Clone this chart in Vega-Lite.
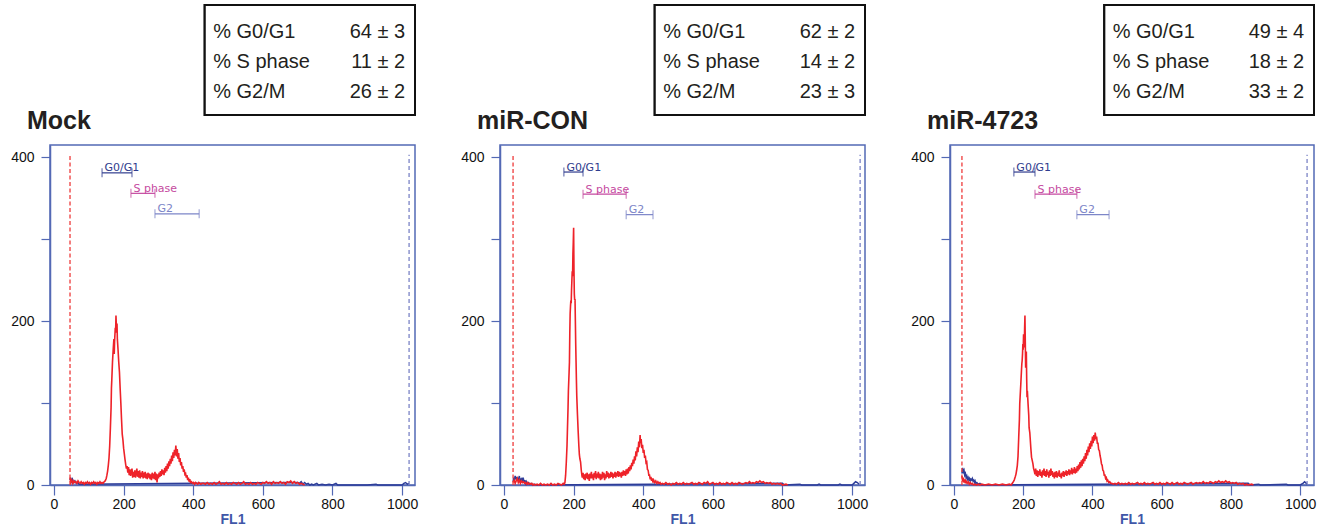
{
  "$schema": "https://vega.github.io/schema/vega-lite/v6.json",
  "padding": {"left": 9, "top": 4, "right": 5, "bottom": 0},
  "background": "white",
  "datasets": {
    "tables": [
      {"panel": "Mock", "row": 1, "label": "% G0/G1", "value": "64 ± 3"},
      {"panel": "Mock", "row": 2, "label": "% S phase", "value": "11 ± 2"},
      {"panel": "Mock", "row": 3, "label": "% G2/M", "value": "26 ± 2"},
      {"panel": "miR-CON", "row": 1, "label": "% G0/G1", "value": "62 ± 2"},
      {"panel": "miR-CON", "row": 2, "label": "% S phase", "value": "14 ± 2"},
      {"panel": "miR-CON", "row": 3, "label": "% G2/M", "value": "23 ± 3"},
      {"panel": "miR-4723", "row": 1, "label": "% G0/G1", "value": "49 ± 4"},
      {"panel": "miR-4723", "row": 2, "label": "% S phase", "value": "18 ± 2"},
      {"panel": "miR-4723", "row": 3, "label": "% G2/M", "value": "33 ± 2"}
    ],
    "gates": [
      {"panel": "Mock", "gate": "G0/G1", "x": 138, "x2": 224, "y": 381},
      {"panel": "Mock", "gate": "S phase", "x": 221, "x2": 290, "y": 356},
      {"panel": "Mock", "gate": "G2", "x": 290, "x2": 417, "y": 331},
      {"panel": "miR-CON", "gate": "G0/G1", "x": 172, "x2": 227, "y": 382},
      {"panel": "miR-CON", "gate": "S phase", "x": 227, "x2": 351, "y": 355},
      {"panel": "miR-CON", "gate": "G2", "x": 351, "x2": 428, "y": 330},
      {"panel": "miR-4723", "gate": "G0/G1", "x": 173, "x2": 234, "y": 382},
      {"panel": "miR-4723", "gate": "S phase", "x": 234, "x2": 355, "y": 355},
      {"panel": "miR-4723", "gate": "G2", "x": 355, "x2": 448, "y": 330}
    ],
    "cuts": [
      {"panel": "Mock", "side": "L", "x": 46},
      {"panel": "Mock", "side": "R", "x": 1020},
      {"panel": "miR-CON", "side": "L", "x": 26},
      {"panel": "miR-CON", "side": "R", "x": 1023},
      {"panel": "miR-4723", "side": "L", "x": 23},
      {"panel": "miR-4723", "side": "R", "x": 1020}
    ],
    "m_b": [
      {"x":46,"y":6},{"x":48,"y":9},{"x":50,"y":4},{"x":53,"y":7},{"x":56,"y":3},{"x":60,"y":5},{"x":64,"y":2},{"x":68,"y":3},{"x":72,"y":1},
      {"x":700,"y":3},{"x":705,"y":2},{"x":710,"y":4},{"x":715,"y":1},{"x":720,"y":3},{"x":725,"y":1},{"x":730,"y":2},{"x":735,"y":0},{"x":740,"y":1},{"x":745,"y":0},{"x":755,"y":2},{"x":760,"y":0},{"x":770,"y":1},{"x":780,"y":0},{"x":790,"y":1},{"x":800,"y":0},{"x":810,"y":2},{"x":815,"y":0},{"x":900,"y":0},{"x":925,"y":1},{"x":930,"y":0},{"x":1000,"y":0},{"x":1005,"y":2},{"x":1010,"y":3},{"x":1015,"y":1},{"x":1020,"y":2}
    ],
    "m_r": [
      {"x":46,"y":9},{"x":48,"y":3},{"x":51,"y":6},{"x":54,"y":2},{"x":57,"y":5},{"x":60,"y":3},{"x":63,"y":4},{"x":66,"y":2},{"x":69,"y":5},{"x":72,"y":3},{"x":75,"y":2},{"x":78,"y":4},{"x":81,"y":2},{"x":84,"y":3},{"x":87,"y":1},{"x":90,"y":3},{"x":93,"y":2},{"x":96,"y":4},{"x":99,"y":2},{"x":102,"y":3},{"x":105,"y":1},{"x":108,"y":3},{"x":111,"y":2},{"x":114,"y":4},{"x":117,"y":2},{"x":120,"y":3},{"x":123,"y":1},{"x":126,"y":3},{"x":129,"y":2},{"x":132,"y":4},{"x":135,"y":2},{"x":138,"y":3},{"x":141,"y":2},{"x":144,"y":4},{"x":147,"y":5},
      {"x":150,"y":8},{"x":152,"y":12},{"x":154,"y":17},{"x":156,"y":24},{"x":158,"y":33},{"x":160,"y":48},{"x":162,"y":70},{"x":164,"y":95},{"x":165,"y":118},{"x":166,"y":128},{"x":168,"y":150},{"x":170,"y":165},{"x":172,"y":178},{"x":173,"y":160},{"x":174,"y":175},{"x":176,"y":192},{"x":177,"y":186},{"x":178,"y":207},{"x":179,"y":196},{"x":180,"y":188},{"x":181,"y":197},{"x":182,"y":178},{"x":184,"y":165},{"x":186,"y":150},{"x":188,"y":138},{"x":190,"y":118},{"x":192,"y":100},{"x":194,"y":80},{"x":196,"y":62},{"x":198,"y":55},{"x":200,"y":45},{"x":202,"y":38},{"x":204,"y":31},{"x":206,"y":25},{"x":208,"y":20},
      {"x":210,"y":23},{"x":212,"y":15},{"x":214,"y":22},{"x":216,"y":12},{"x":218,"y":19},{"x":220,"y":11},{"x":222,"y":17},{"x":224,"y":20},{"x":226,"y":9},{"x":228,"y":16},{"x":230,"y":10},{"x":232,"y":18},{"x":234,"y":9},{"x":236,"y":15},{"x":238,"y":20},{"x":240,"y":10},{"x":242,"y":17},{"x":244,"y":9},{"x":246,"y":18},{"x":248,"y":8},{"x":250,"y":15},{"x":252,"y":10},{"x":254,"y":17},{"x":256,"y":8},{"x":258,"y":15},{"x":260,"y":9},{"x":262,"y":16},{"x":264,"y":8},{"x":266,"y":14},{"x":268,"y":7},{"x":270,"y":15},{"x":272,"y":9},{"x":274,"y":14},{"x":276,"y":7},{"x":278,"y":13},{"x":280,"y":6},{"x":282,"y":15},{"x":284,"y":8},{"x":286,"y":14},{"x":288,"y":7},{"x":290,"y":16},{"x":292,"y":6},{"x":294,"y":14},{"x":296,"y":3},{"x":298,"y":13},{"x":300,"y":8},
      {"x":302,"y":15},{"x":304,"y":10},{"x":306,"y":17},{"x":308,"y":11},{"x":310,"y":19},{"x":312,"y":13},{"x":314,"y":18},{"x":316,"y":12},{"x":318,"y":21},{"x":320,"y":15},{"x":322,"y":23},{"x":324,"y":17},{"x":326,"y":26},{"x":328,"y":20},{"x":330,"y":29},{"x":332,"y":23},{"x":334,"y":32},{"x":336,"y":26},{"x":338,"y":36},{"x":340,"y":29},{"x":342,"y":40},{"x":344,"y":33},{"x":346,"y":43},{"x":348,"y":36},{"x":350,"y":48},{"x":352,"y":35},{"x":354,"y":44},{"x":356,"y":32},{"x":358,"y":39},{"x":360,"y":28},{"x":362,"y":33},{"x":364,"y":24},{"x":366,"y":28},{"x":368,"y":20},{"x":370,"y":23},{"x":372,"y":16},{"x":374,"y":19},{"x":376,"y":13},{"x":378,"y":14},{"x":380,"y":9},{"x":382,"y":12},{"x":384,"y":6},{"x":386,"y":9},{"x":388,"y":4},{"x":390,"y":7},{"x":392,"y":3},{"x":395,"y":4},{"x":398,"y":2},{"x":401,"y":3},{"x":404,"y":1},{"x":407,"y":3},{"x":410,"y":2},{"x":413,"y":1},{"x":416,"y":3},{"x":419,"y":2},{"x":422,"y":1},{"x":425,"y":2},
      {"x":430,"y":2},{"x":435,"y":1},{"x":440,"y":3},{"x":445,"y":1},{"x":450,"y":2},{"x":455,"y":1},{"x":460,"y":3},{"x":465,"y":1},{"x":470,"y":2},{"x":475,"y":4},{"x":480,"y":1},{"x":485,"y":2},{"x":490,"y":1},{"x":495,"y":3},{"x":500,"y":1},{"x":505,"y":2},{"x":510,"y":1},{"x":515,"y":3},{"x":520,"y":2},{"x":525,"y":1},{"x":530,"y":3},{"x":535,"y":1},{"x":540,"y":2},{"x":545,"y":4},{"x":550,"y":1},{"x":555,"y":2},{"x":560,"y":1},{"x":565,"y":3},{"x":570,"y":1},{"x":575,"y":2},{"x":580,"y":1},{"x":585,"y":3},{"x":590,"y":2},{"x":595,"y":1},{"x":600,"y":3},{"x":605,"y":2},{"x":610,"y":4},{"x":615,"y":2},{"x":620,"y":3},{"x":625,"y":1},{"x":630,"y":4},{"x":635,"y":2},{"x":640,"y":3},{"x":645,"y":2},{"x":650,"y":4},{"x":655,"y":2},{"x":660,"y":3},{"x":665,"y":1},{"x":670,"y":4},{"x":675,"y":3},{"x":680,"y":5},{"x":685,"y":2},{"x":690,"y":4},{"x":695,"y":2},{"x":700,"y":3},{"x":705,"y":1},{"x":710,"y":2},{"x":715,"y":1},{"x":720,"y":0}
    ],
    "c_b": [
      {"x":26,"y":4},{"x":28,"y":9},{"x":30,"y":6},{"x":32,"y":11},{"x":34,"y":7},{"x":36,"y":10},{"x":38,"y":5},{"x":40,"y":9},{"x":42,"y":6},{"x":44,"y":11},{"x":46,"y":5},{"x":48,"y":8},{"x":50,"y":4},{"x":52,"y":9},{"x":54,"y":5},{"x":56,"y":7},{"x":58,"y":3},{"x":60,"y":6},{"x":62,"y":2},{"x":64,"y":4},{"x":66,"y":1},{"x":70,"y":3},{"x":74,"y":1},{"x":78,"y":2},{"x":82,"y":0},{"x":88,"y":1},{"x":95,"y":0},
      {"x":800,"y":2},{"x":805,"y":0},{"x":850,"y":1},{"x":855,"y":0},{"x":900,"y":0},{"x":905,"y":1},{"x":910,"y":0},{"x":960,"y":0},{"x":965,"y":1},{"x":970,"y":0},{"x":1000,"y":0},{"x":1005,"y":2},{"x":1010,"y":4},{"x":1015,"y":3},{"x":1020,"y":1}
    ],
    "c_r": [
      {"x":26,"y":3},{"x":29,"y":6},{"x":32,"y":2},{"x":35,"y":5},{"x":38,"y":8},{"x":41,"y":3},{"x":44,"y":6},{"x":47,"y":2},{"x":50,"y":5},{"x":53,"y":3},{"x":56,"y":4},{"x":59,"y":2},{"x":62,"y":3},{"x":65,"y":1},{"x":68,"y":3},{"x":71,"y":1},{"x":74,"y":2},{"x":77,"y":1},{"x":80,"y":2},{"x":83,"y":0},{"x":86,"y":1},{"x":90,"y":0},{"x":95,"y":1},{"x":100,"y":0},{"x":105,"y":2},{"x":110,"y":0},{"x":115,"y":1},{"x":120,"y":0},{"x":125,"y":1},{"x":130,"y":0},{"x":135,"y":2},{"x":140,"y":0},{"x":145,"y":1},{"x":150,"y":0},{"x":155,"y":2},{"x":160,"y":1},{"x":165,"y":0},{"x":170,"y":2},{"x":173,"y":1},
      {"x":175,"y":3},{"x":177,"y":12},{"x":179,"y":28},{"x":181,"y":48},{"x":182,"y":64},{"x":184,"y":95},{"x":185,"y":115},{"x":187,"y":138},{"x":188,"y":150},{"x":189,"y":185},{"x":190,"y":209},{"x":191,"y":218},{"x":192,"y":225},{"x":193,"y":222},{"x":194,"y":238},{"x":195,"y":250},{"x":196,"y":261},{"x":197,"y":255},{"x":198,"y":282},{"x":199,"y":296},{"x":200,"y":314},{"x":201,"y":262},{"x":202,"y":233},{"x":203,"y":226},{"x":204,"y":227},{"x":205,"y":200},{"x":206,"y":172},{"x":207,"y":150},{"x":208,"y":128},{"x":209,"y":109},{"x":211,"y":86},{"x":213,"y":66},{"x":215,"y":48},{"x":216.5,"y":37},{"x":218,"y":32},{"x":220,"y":28},{"x":222,"y":18},{"x":224,"y":11},{"x":225,"y":9},
      {"x":227,"y":15},{"x":229,"y":7},{"x":231,"y":13},{"x":233,"y":6},{"x":235,"y":14},{"x":237,"y":8},{"x":239,"y":15},{"x":241,"y":7},{"x":243,"y":13},{"x":245,"y":5},{"x":247,"y":14},{"x":249,"y":8},{"x":251,"y":16},{"x":253,"y":8},{"x":255,"y":13},{"x":257,"y":6},{"x":259,"y":15},{"x":261,"y":9},{"x":263,"y":17},{"x":265,"y":7},{"x":267,"y":14},{"x":269,"y":9},{"x":271,"y":16},{"x":273,"y":8},{"x":275,"y":14},{"x":277,"y":6},{"x":279,"y":13},{"x":281,"y":7},{"x":283,"y":16},{"x":285,"y":9},{"x":287,"y":15},{"x":289,"y":6},{"x":291,"y":13},{"x":293,"y":8},{"x":295,"y":17},{"x":297,"y":10},{"x":299,"y":15},{"x":301,"y":8},{"x":303,"y":14},{"x":305,"y":9},{"x":307,"y":16},{"x":309,"y":10},{"x":311,"y":15},{"x":313,"y":8},{"x":315,"y":14},{"x":317,"y":10},{"x":319,"y":16},{"x":321,"y":9},{"x":323,"y":15},{"x":325,"y":11},{"x":327,"y":17},{"x":329,"y":10},{"x":331,"y":16},{"x":333,"y":11},{"x":335,"y":15},{"x":337,"y":9},{"x":339,"y":16},{"x":341,"y":11},{"x":343,"y":18},{"x":345,"y":12},{"x":347,"y":17},{"x":349,"y":11},{"x":351,"y":19},{"x":353,"y":13},{"x":355,"y":20},{"x":357,"y":14},
      {"x":359,"y":22},{"x":361,"y":17},{"x":363,"y":24},{"x":365,"y":19},{"x":367,"y":27},{"x":369,"y":23},{"x":371,"y":31},{"x":373,"y":26},{"x":375,"y":35},{"x":377,"y":30},{"x":379,"y":41},{"x":381,"y":35},{"x":383,"y":46},{"x":385,"y":40},{"x":387,"y":53},{"x":389,"y":46},{"x":391,"y":61},{"x":392,"y":51},{"x":394,"y":56},{"x":396,"y":45},{"x":398,"y":49},{"x":400,"y":39},{"x":402,"y":43},{"x":404,"y":33},{"x":406,"y":36},{"x":408,"y":27},{"x":410,"y":28},{"x":412,"y":19},{"x":414,"y":18},{"x":416,"y":12},{"x":418,"y":12},{"x":420,"y":7},{"x":422,"y":10},{"x":424,"y":5},{"x":426,"y":8},{"x":428,"y":3},{"x":430,"y":6},{"x":433,"y":3},{"x":436,"y":5},{"x":439,"y":2},{"x":442,"y":4},{"x":445,"y":2},{"x":448,"y":3},{"x":451,"y":1},
      {"x":455,"y":2},{"x":460,"y":1},{"x":465,"y":3},{"x":470,"y":1},{"x":475,"y":2},{"x":480,"y":0},{"x":485,"y":2},{"x":490,"y":1},{"x":495,"y":3},{"x":500,"y":1},{"x":505,"y":2},{"x":510,"y":1},{"x":515,"y":3},{"x":520,"y":1},{"x":525,"y":2},{"x":530,"y":1},{"x":535,"y":2},{"x":540,"y":3},{"x":545,"y":1},{"x":550,"y":2},{"x":555,"y":1},{"x":560,"y":3},{"x":565,"y":2},{"x":570,"y":1},{"x":575,"y":3},{"x":580,"y":2},{"x":585,"y":4},{"x":590,"y":1},{"x":595,"y":2},{"x":600,"y":3},{"x":605,"y":1},{"x":610,"y":2},{"x":615,"y":1},{"x":620,"y":3},{"x":625,"y":1},{"x":630,"y":2},{"x":635,"y":1},{"x":640,"y":3},{"x":645,"y":2},{"x":650,"y":1},{"x":655,"y":3},{"x":660,"y":1},{"x":665,"y":2},{"x":670,"y":1},{"x":675,"y":3},{"x":680,"y":2},{"x":685,"y":1},{"x":690,"y":2},{"x":695,"y":3},{"x":700,"y":2},{"x":705,"y":4},{"x":710,"y":2},{"x":715,"y":3},{"x":720,"y":2},{"x":725,"y":4},{"x":730,"y":3},{"x":735,"y":5},{"x":740,"y":3},{"x":745,"y":4},{"x":750,"y":2},{"x":755,"y":3},{"x":760,"y":2},{"x":765,"y":3},{"x":770,"y":1},{"x":775,"y":2},{"x":780,"y":1},{"x":785,"y":2},{"x":790,"y":1},{"x":795,"y":2},{"x":800,"y":0},{"x":810,"y":1},{"x":815,"y":0}
    ],
    "t_b": [
      {"x":23,"y":14},{"x":25,"y":21},{"x":27,"y":16},{"x":29,"y":18},{"x":31,"y":12},{"x":33,"y":14},{"x":35,"y":9},{"x":37,"y":11},{"x":39,"y":7},{"x":41,"y":9},{"x":43,"y":6},{"x":45,"y":8},{"x":47,"y":5},{"x":49,"y":7},{"x":51,"y":6},{"x":53,"y":8},{"x":55,"y":5},{"x":57,"y":6},{"x":59,"y":3},{"x":61,"y":5},{"x":63,"y":2},{"x":66,"y":3},{"x":70,"y":1},{"x":75,"y":2},{"x":80,"y":0},
      {"x":850,"y":2},{"x":855,"y":0},{"x":880,"y":1},{"x":885,"y":0},{"x":960,"y":1},{"x":965,"y":0},{"x":1000,"y":0},{"x":1008,"y":2},{"x":1013,"y":4},{"x":1018,"y":2},{"x":1020,"y":0}
    ],
    "t_r": [
      {"x":23,"y":11},{"x":25,"y":4},{"x":27,"y":9},{"x":29,"y":3},{"x":31,"y":7},{"x":33,"y":2},{"x":35,"y":5},{"x":38,"y":2},{"x":41,"y":4},{"x":44,"y":1},{"x":47,"y":3},{"x":50,"y":1},{"x":53,"y":2},{"x":56,"y":0},{"x":60,"y":1},{"x":65,"y":0},{"x":70,"y":1},{"x":75,"y":0},{"x":80,"y":1},{"x":90,"y":0},{"x":100,"y":1},{"x":110,"y":0},{"x":120,"y":1},{"x":130,"y":0},{"x":140,"y":1},{"x":150,"y":0},{"x":160,"y":1},{"x":165,"y":0},
      {"x":170,"y":3},{"x":174,"y":6},{"x":177,"y":10},{"x":179,"y":13},{"x":181,"y":18},{"x":183,"y":24},{"x":185,"y":35},{"x":187,"y":58},{"x":189,"y":80},{"x":190,"y":99},{"x":192,"y":115},{"x":193,"y":123},{"x":195,"y":140},{"x":196,"y":148},{"x":197,"y":152},{"x":198,"y":160},{"x":199,"y":172},{"x":200,"y":165},{"x":201,"y":184},{"x":202,"y":175},{"x":203,"y":168},{"x":204,"y":190},{"x":205,"y":207},{"x":206,"y":175},{"x":207,"y":143},{"x":208,"y":155},{"x":209,"y":163},{"x":210,"y":130},{"x":211,"y":107},{"x":212,"y":115},{"x":214,"y":99},{"x":216,"y":85},{"x":217,"y":70},{"x":219,"y":64},{"x":220,"y":58},{"x":222,"y":45},{"x":224,"y":34},{"x":226,"y":30},{"x":228,"y":26},{"x":230,"y":20},{"x":232,"y":17},{"x":234,"y":13},
      {"x":236,"y":20},{"x":238,"y":11},{"x":240,"y":18},{"x":242,"y":10},{"x":244,"y":17},{"x":246,"y":12},{"x":248,"y":19},{"x":250,"y":11},{"x":252,"y":16},{"x":254,"y":9},{"x":256,"y":18},{"x":258,"y":12},{"x":260,"y":20},{"x":262,"y":11},{"x":264,"y":17},{"x":266,"y":10},{"x":268,"y":19},{"x":270,"y":12},{"x":272,"y":16},{"x":274,"y":9},{"x":276,"y":18},{"x":278,"y":11},{"x":280,"y":20},{"x":282,"y":12},{"x":284,"y":17},{"x":286,"y":10},{"x":288,"y":15},{"x":290,"y":8},{"x":292,"y":16},{"x":294,"y":10},{"x":296,"y":17},{"x":298,"y":9},{"x":300,"y":15},{"x":302,"y":11},{"x":304,"y":18},{"x":306,"y":10},{"x":308,"y":14},{"x":310,"y":8},{"x":312,"y":15},{"x":314,"y":11},{"x":316,"y":17},{"x":318,"y":10},{"x":320,"y":16},{"x":322,"y":12},{"x":324,"y":18},{"x":326,"y":11},{"x":328,"y":17},{"x":330,"y":13},{"x":332,"y":19},{"x":334,"y":12},{"x":336,"y":18},{"x":338,"y":14},{"x":340,"y":21},{"x":342,"y":13},{"x":344,"y":19},{"x":346,"y":15},{"x":348,"y":22},{"x":350,"y":14},{"x":352,"y":20},{"x":354,"y":15},{"x":356,"y":23},{"x":358,"y":17},
      {"x":360,"y":25},{"x":362,"y":19},{"x":364,"y":28},{"x":366,"y":21},{"x":368,"y":30},{"x":370,"y":23},{"x":372,"y":32},{"x":374,"y":26},{"x":376,"y":35},{"x":378,"y":29},{"x":380,"y":39},{"x":382,"y":32},{"x":384,"y":43},{"x":386,"y":36},{"x":388,"y":47},{"x":390,"y":40},{"x":392,"y":51},{"x":394,"y":44},{"x":396,"y":54},{"x":398,"y":47},{"x":400,"y":59},{"x":402,"y":51},{"x":404,"y":61},{"x":406,"y":54},{"x":408,"y":64},{"x":410,"y":56},{"x":412,"y":59},{"x":414,"y":51},{"x":416,"y":51},{"x":418,"y":43},{"x":420,"y":42},{"x":422,"y":36},{"x":424,"y":32},{"x":426,"y":26},{"x":428,"y":24},{"x":430,"y":18},{"x":432,"y":17},{"x":434,"y":12},{"x":436,"y":12},{"x":438,"y":8},{"x":440,"y":9},{"x":442,"y":5},{"x":444,"y":6},{"x":447,"y":3},{"x":450,"y":4},{"x":453,"y":2},
      {"x":456,"y":2},{"x":460,"y":1},{"x":465,"y":2},{"x":470,"y":1},{"x":475,"y":3},{"x":480,"y":1},{"x":485,"y":2},{"x":490,"y":1},{"x":495,"y":2},{"x":500,"y":1},{"x":505,"y":3},{"x":510,"y":1},{"x":515,"y":2},{"x":520,"y":1},{"x":525,"y":2},{"x":530,"y":3},{"x":535,"y":1},{"x":540,"y":2},{"x":545,"y":1},{"x":550,"y":3},{"x":555,"y":1},{"x":560,"y":2},{"x":565,"y":1},{"x":570,"y":2},{"x":575,"y":3},{"x":580,"y":1},{"x":585,"y":2},{"x":590,"y":1},{"x":595,"y":3},{"x":600,"y":1},{"x":605,"y":2},{"x":610,"y":1},{"x":615,"y":3},{"x":620,"y":2},{"x":625,"y":1},{"x":630,"y":3},{"x":635,"y":1},{"x":640,"y":2},{"x":645,"y":3},{"x":650,"y":1},{"x":655,"y":2},{"x":660,"y":1},{"x":665,"y":3},{"x":670,"y":2},{"x":675,"y":1},{"x":680,"y":2},{"x":685,"y":3},{"x":690,"y":1},{"x":695,"y":2},{"x":700,"y":3},{"x":705,"y":2},{"x":710,"y":3},{"x":715,"y":2},{"x":720,"y":4},{"x":725,"y":2},{"x":730,"y":3},{"x":735,"y":2},{"x":740,"y":4},{"x":745,"y":3},{"x":750,"y":2},{"x":755,"y":4},{"x":760,"y":3},{"x":765,"y":5},{"x":770,"y":3},{"x":775,"y":4},{"x":780,"y":3},{"x":785,"y":5},{"x":790,"y":3},{"x":795,"y":4},{"x":800,"y":2},{"x":805,"y":3},{"x":810,"y":2},{"x":815,"y":3},{"x":820,"y":1},{"x":825,"y":2},{"x":830,"y":1},{"x":835,"y":2},{"x":840,"y":0},{"x":845,"y":1},{"x":850,"y":0},{"x":860,"y":1},{"x":865,"y":0}
    ]
  },
  "hconcat": [
    {
      "vconcat": [
        {
          "width": 365, "height": 110, "view": {"stroke": null},
          "data": {"name": "tables"},
          "transform": [{"filter": "datum.panel === 'Mock'"}],
          "layer": [
            {"mark": {"type": "rect", "fill": "white", "stroke": "#111111", "strokeWidth": 2},
             "encoding": {"x": {"datum": 0.424, "type": "quantitative", "scale": {"domain": [0, 1], "nice": false, "zero": false}, "axis": null}, "x2": {"datum": 1.0}}},
            {"mark": {"type": "text", "align": "left", "baseline": "middle", "font": "Liberation Sans", "fontSize": 20, "color": "#231f20", "dy": 2},
             "encoding": {"x": {"datum": 0.447, "type": "quantitative"}, "y": {"field": "row", "type": "ordinal", "scale": {"type": "point", "padding": 0.85}, "axis": null}, "text": {"field": "label"}}},
            {"mark": {"type": "text", "align": "right", "baseline": "middle", "font": "Liberation Sans", "fontSize": 20, "color": "#231f20", "dy": 2},
             "encoding": {"x": {"datum": 0.973, "type": "quantitative"}, "y": {"field": "row", "type": "ordinal"}, "text": {"field": "value"}}}
          ]
        },
        {
          "width": 365, "height": 340,
          "title": "Mock",
          "layer": [
            {"data": {"name": "m_b"}, "mark": {"type": "line", "color": "#2e3d99", "strokeWidth": 1.5},
             "encoding": {
               "x": {"field": "x", "type": "quantitative", "title": "FL1", "scale": {"domain": [-11.5, 1037], "nice": false, "zero": false},
                     "axis": {"values": [0,50,100,150,200,250,300,350,400,450,500,550,600,650,700,750,800,850,900,950,1000], "format": "d", "labelExpr": "datum.value % 200 === 0 ? datum.label : ''"}},
               "y": {"field": "y", "type": "quantitative", "title": null, "scale": {"domain": [0, 415], "nice": false},
                     "axis": {"values": [0,100,200,300,400], "format": "d", "labelExpr": "datum.value % 200 === 0 ? datum.label : ''"}}}},
            {"data": {"name": "m_r"}, "mark": {"type": "line", "color": "#ee2229", "strokeWidth": 1.6},
             "encoding": {"x": {"field": "x", "type": "quantitative", "title": "FL1"}, "y": {"field": "y", "type": "quantitative", "title": null}}},
            {"data": {"name": "cuts"}, "transform": [{"filter": "datum.panel === 'Mock' && datum.side === 'L'"}],
             "mark": {"type": "rule", "color": "#ee3b3b", "strokeWidth": 1.3, "strokeDash": [4, 2.5]},
             "encoding": {"x": {"field": "x", "type": "quantitative", "title": "FL1"}, "y": {"datum": 0, "type": "quantitative"}, "y2": {"datum": 403}}},
            {"data": {"name": "cuts"}, "transform": [{"filter": "datum.panel === 'Mock' && datum.side === 'R'"}],
             "mark": {"type": "rule", "color": "#7b83c6", "strokeWidth": 1.3, "strokeDash": [4, 3]},
             "encoding": {"x": {"field": "x", "type": "quantitative", "title": "FL1"}, "y": {"datum": 0, "type": "quantitative"}, "y2": {"datum": 403}}},
            {"data": {"name": "gates"}, "transform": [{"filter": "datum.panel === 'Mock'"}],
             "mark": {"type": "rule", "strokeWidth": 1.2},
             "encoding": {"x": {"field": "x", "type": "quantitative", "title": "FL1"}, "x2": {"field": "x2"}, "y": {"field": "y", "type": "quantitative", "title": null},
                          "color": {"field": "gate", "type": "nominal", "scale": {"domain": ["G0/G1", "S phase", "G2"], "range": ["#303c8e", "#c54aa0", "#7d86c8"]}, "legend": null}}},
            {"data": {"name": "gates"}, "transform": [{"filter": "datum.panel === 'Mock'"}],
             "mark": {"type": "tick", "orient": "vertical", "size": 9, "thickness": 1.2},
             "encoding": {"x": {"field": "x", "type": "quantitative", "title": "FL1"}, "y": {"field": "y", "type": "quantitative", "title": null}, "color": {"field": "gate", "type": "nominal", "legend": null}}},
            {"data": {"name": "gates"}, "transform": [{"filter": "datum.panel === 'Mock'"}],
             "mark": {"type": "tick", "orient": "vertical", "size": 9, "thickness": 1.2},
             "encoding": {"x": {"field": "x2", "type": "quantitative", "title": "FL1"}, "y": {"field": "y", "type": "quantitative", "title": null}, "color": {"field": "gate", "type": "nominal", "legend": null}}},
            {"data": {"name": "gates"}, "transform": [{"filter": "datum.panel === 'Mock'"}],
             "mark": {"type": "text", "align": "left", "baseline": "alphabetic", "dx": 2.5, "dy": -1.5, "font": "DejaVu Sans", "fontSize": 11},
             "encoding": {"x": {"field": "x", "type": "quantitative", "title": "FL1"}, "y": {"field": "y", "type": "quantitative", "title": null}, "text": {"field": "gate"}, "color": {"field": "gate", "type": "nominal", "legend": null}}}
          ]
        }
      ],
      "spacing": 30, "bounds": "flush"
    },
    {
      "vconcat": [
        {
          "width": 365, "height": 110, "view": {"stroke": null},
          "data": {"name": "tables"},
          "transform": [{"filter": "datum.panel === 'miR-CON'"}],
          "layer": [
            {"mark": {"type": "rect", "fill": "white", "stroke": "#111111", "strokeWidth": 2},
             "encoding": {"x": {"datum": 0.424, "type": "quantitative", "scale": {"domain": [0, 1], "nice": false, "zero": false}, "axis": null}, "x2": {"datum": 1.0}}},
            {"mark": {"type": "text", "align": "left", "baseline": "middle", "font": "Liberation Sans", "fontSize": 20, "color": "#231f20", "dy": 2},
             "encoding": {"x": {"datum": 0.447, "type": "quantitative"}, "y": {"field": "row", "type": "ordinal", "scale": {"type": "point", "padding": 0.85}, "axis": null}, "text": {"field": "label"}}},
            {"mark": {"type": "text", "align": "right", "baseline": "middle", "font": "Liberation Sans", "fontSize": 20, "color": "#231f20", "dy": 2},
             "encoding": {"x": {"datum": 0.973, "type": "quantitative"}, "y": {"field": "row", "type": "ordinal"}, "text": {"field": "value"}}}
          ]
        },
        {
          "width": 365, "height": 340,
          "title": "miR-CON",
          "layer": [
            {"data": {"name": "c_b"}, "mark": {"type": "line", "color": "#2e3d99", "strokeWidth": 1.5},
             "encoding": {
               "x": {"field": "x", "type": "quantitative", "title": "FL1", "scale": {"domain": [-11.5, 1037], "nice": false, "zero": false},
                     "axis": {"values": [0,50,100,150,200,250,300,350,400,450,500,550,600,650,700,750,800,850,900,950,1000], "format": "d", "labelExpr": "datum.value % 200 === 0 ? datum.label : ''"}},
               "y": {"field": "y", "type": "quantitative", "title": null, "scale": {"domain": [0, 415], "nice": false},
                     "axis": {"values": [0,100,200,300,400], "format": "d", "labelExpr": "datum.value % 200 === 0 ? datum.label : ''"}}}},
            {"data": {"name": "c_r"}, "mark": {"type": "line", "color": "#ee2229", "strokeWidth": 1.6},
             "encoding": {"x": {"field": "x", "type": "quantitative", "title": "FL1"}, "y": {"field": "y", "type": "quantitative", "title": null}}},
            {"data": {"name": "cuts"}, "transform": [{"filter": "datum.panel === 'miR-CON' && datum.side === 'L'"}],
             "mark": {"type": "rule", "color": "#ee3b3b", "strokeWidth": 1.3, "strokeDash": [4, 2.5]},
             "encoding": {"x": {"field": "x", "type": "quantitative", "title": "FL1"}, "y": {"datum": 0, "type": "quantitative"}, "y2": {"datum": 403}}},
            {"data": {"name": "cuts"}, "transform": [{"filter": "datum.panel === 'miR-CON' && datum.side === 'R'"}],
             "mark": {"type": "rule", "color": "#7b83c6", "strokeWidth": 1.3, "strokeDash": [4, 3]},
             "encoding": {"x": {"field": "x", "type": "quantitative", "title": "FL1"}, "y": {"datum": 0, "type": "quantitative"}, "y2": {"datum": 403}}},
            {"data": {"name": "gates"}, "transform": [{"filter": "datum.panel === 'miR-CON'"}],
             "mark": {"type": "rule", "strokeWidth": 1.2},
             "encoding": {"x": {"field": "x", "type": "quantitative", "title": "FL1"}, "x2": {"field": "x2"}, "y": {"field": "y", "type": "quantitative", "title": null},
                          "color": {"field": "gate", "type": "nominal", "scale": {"domain": ["G0/G1", "S phase", "G2"], "range": ["#303c8e", "#c54aa0", "#7d86c8"]}, "legend": null}}},
            {"data": {"name": "gates"}, "transform": [{"filter": "datum.panel === 'miR-CON'"}],
             "mark": {"type": "tick", "orient": "vertical", "size": 9, "thickness": 1.2},
             "encoding": {"x": {"field": "x", "type": "quantitative", "title": "FL1"}, "y": {"field": "y", "type": "quantitative", "title": null}, "color": {"field": "gate", "type": "nominal", "legend": null}}},
            {"data": {"name": "gates"}, "transform": [{"filter": "datum.panel === 'miR-CON'"}],
             "mark": {"type": "tick", "orient": "vertical", "size": 9, "thickness": 1.2},
             "encoding": {"x": {"field": "x2", "type": "quantitative", "title": "FL1"}, "y": {"field": "y", "type": "quantitative", "title": null}, "color": {"field": "gate", "type": "nominal", "legend": null}}},
            {"data": {"name": "gates"}, "transform": [{"filter": "datum.panel === 'miR-CON'"}],
             "mark": {"type": "text", "align": "left", "baseline": "alphabetic", "dx": 2.5, "dy": -1.5, "font": "DejaVu Sans", "fontSize": 11},
             "encoding": {"x": {"field": "x", "type": "quantitative", "title": "FL1"}, "y": {"field": "y", "type": "quantitative", "title": null}, "text": {"field": "gate"}, "color": {"field": "gate", "type": "nominal", "legend": null}}}
          ]
        }
      ],
      "spacing": 30, "bounds": "flush"
    },
    {
      "vconcat": [
        {
          "width": 364, "height": 110, "view": {"stroke": null},
          "data": {"name": "tables"},
          "transform": [{"filter": "datum.panel === 'miR-4723'"}],
          "layer": [
            {"mark": {"type": "rect", "fill": "white", "stroke": "#111111", "strokeWidth": 2},
             "encoding": {"x": {"datum": 0.424, "type": "quantitative", "scale": {"domain": [0, 1], "nice": false, "zero": false}, "axis": null}, "x2": {"datum": 1.0}}},
            {"mark": {"type": "text", "align": "left", "baseline": "middle", "font": "Liberation Sans", "fontSize": 20, "color": "#231f20", "dy": 2},
             "encoding": {"x": {"datum": 0.447, "type": "quantitative"}, "y": {"field": "row", "type": "ordinal", "scale": {"type": "point", "padding": 0.85}, "axis": null}, "text": {"field": "label"}}},
            {"mark": {"type": "text", "align": "right", "baseline": "middle", "font": "Liberation Sans", "fontSize": 20, "color": "#231f20", "dy": 2},
             "encoding": {"x": {"datum": 0.973, "type": "quantitative"}, "y": {"field": "row", "type": "ordinal"}, "text": {"field": "value"}}}
          ]
        },
        {
          "width": 364, "height": 340,
          "title": "miR-4723",
          "layer": [
            {"data": {"name": "t_b"}, "mark": {"type": "line", "color": "#2e3d99", "strokeWidth": 1.5},
             "encoding": {
               "x": {"field": "x", "type": "quantitative", "title": "FL1", "scale": {"domain": [-11.5, 1040], "nice": false, "zero": false},
                     "axis": {"values": [0,50,100,150,200,250,300,350,400,450,500,550,600,650,700,750,800,850,900,950,1000], "format": "d", "labelExpr": "datum.value % 200 === 0 ? datum.label : ''"}},
               "y": {"field": "y", "type": "quantitative", "title": null, "scale": {"domain": [0, 415], "nice": false},
                     "axis": {"values": [0,100,200,300,400], "format": "d", "labelExpr": "datum.value % 200 === 0 ? datum.label : ''"}}}},
            {"data": {"name": "t_r"}, "mark": {"type": "line", "color": "#ee2229", "strokeWidth": 1.6},
             "encoding": {"x": {"field": "x", "type": "quantitative", "title": "FL1"}, "y": {"field": "y", "type": "quantitative", "title": null}}},
            {"data": {"name": "cuts"}, "transform": [{"filter": "datum.panel === 'miR-4723' && datum.side === 'L'"}],
             "mark": {"type": "rule", "color": "#ee3b3b", "strokeWidth": 1.3, "strokeDash": [4, 2.5]},
             "encoding": {"x": {"field": "x", "type": "quantitative", "title": "FL1"}, "y": {"datum": 0, "type": "quantitative"}, "y2": {"datum": 403}}},
            {"data": {"name": "cuts"}, "transform": [{"filter": "datum.panel === 'miR-4723' && datum.side === 'R'"}],
             "mark": {"type": "rule", "color": "#7b83c6", "strokeWidth": 1.3, "strokeDash": [4, 3]},
             "encoding": {"x": {"field": "x", "type": "quantitative", "title": "FL1"}, "y": {"datum": 0, "type": "quantitative"}, "y2": {"datum": 403}}},
            {"data": {"name": "gates"}, "transform": [{"filter": "datum.panel === 'miR-4723'"}],
             "mark": {"type": "rule", "strokeWidth": 1.2},
             "encoding": {"x": {"field": "x", "type": "quantitative", "title": "FL1"}, "x2": {"field": "x2"}, "y": {"field": "y", "type": "quantitative", "title": null},
                          "color": {"field": "gate", "type": "nominal", "scale": {"domain": ["G0/G1", "S phase", "G2"], "range": ["#303c8e", "#c54aa0", "#7d86c8"]}, "legend": null}}},
            {"data": {"name": "gates"}, "transform": [{"filter": "datum.panel === 'miR-4723'"}],
             "mark": {"type": "tick", "orient": "vertical", "size": 9, "thickness": 1.2},
             "encoding": {"x": {"field": "x", "type": "quantitative", "title": "FL1"}, "y": {"field": "y", "type": "quantitative", "title": null}, "color": {"field": "gate", "type": "nominal", "legend": null}}},
            {"data": {"name": "gates"}, "transform": [{"filter": "datum.panel === 'miR-4723'"}],
             "mark": {"type": "tick", "orient": "vertical", "size": 9, "thickness": 1.2},
             "encoding": {"x": {"field": "x2", "type": "quantitative", "title": "FL1"}, "y": {"field": "y", "type": "quantitative", "title": null}, "color": {"field": "gate", "type": "nominal", "legend": null}}},
            {"data": {"name": "gates"}, "transform": [{"filter": "datum.panel === 'miR-4723'"}],
             "mark": {"type": "text", "align": "left", "baseline": "alphabetic", "dx": 2.5, "dy": -1.5, "font": "DejaVu Sans", "fontSize": 11},
             "encoding": {"x": {"field": "x", "type": "quantitative", "title": "FL1"}, "y": {"field": "y", "type": "quantitative", "title": null}, "text": {"field": "gate"}, "color": {"field": "gate", "type": "nominal", "legend": null}}}
          ]
        }
      ],
      "spacing": 30, "bounds": "flush"
    }
  ],
  "spacing": 40,
  "bounds": "full",
  "config": {
    "view": {"stroke": "#5369b5", "strokeWidth": 1.5},
    "font": "Liberation Sans",
    "axisX": {"domainColor": "#5369b5", "domainWidth": 1.5, "tickColor": "#5369b5", "tickWidth": 1.2, "tickSize": 10,
              "labelColor": "#111111", "labelFont": "Liberation Sans", "labelFontSize": 14, "labelPadding": 2, "labelFlush": false,
              "titleColor": "#3f57a8", "titleFont": "Liberation Sans", "titleFontSize": 14, "titleFontWeight": "bold", "titlePadding": 1, "grid": false},
    "axisY": {"domainColor": "#5369b5", "domainWidth": 1.5, "tickColor": "#5369b5", "tickWidth": 1.2, "tickSize": 9,
              "labelColor": "#111111", "labelFont": "Liberation Sans", "labelFontSize": 14, "labelPadding": 7, "labelFlush": false, "grid": false},
    "title": {"font": "Liberation Sans", "fontSize": 25, "fontWeight": "bold", "color": "#231f20", "anchor": "start", "frame": "group", "baseline": "alphabetic", "offset": 11, "dx": -23}
  }
}
